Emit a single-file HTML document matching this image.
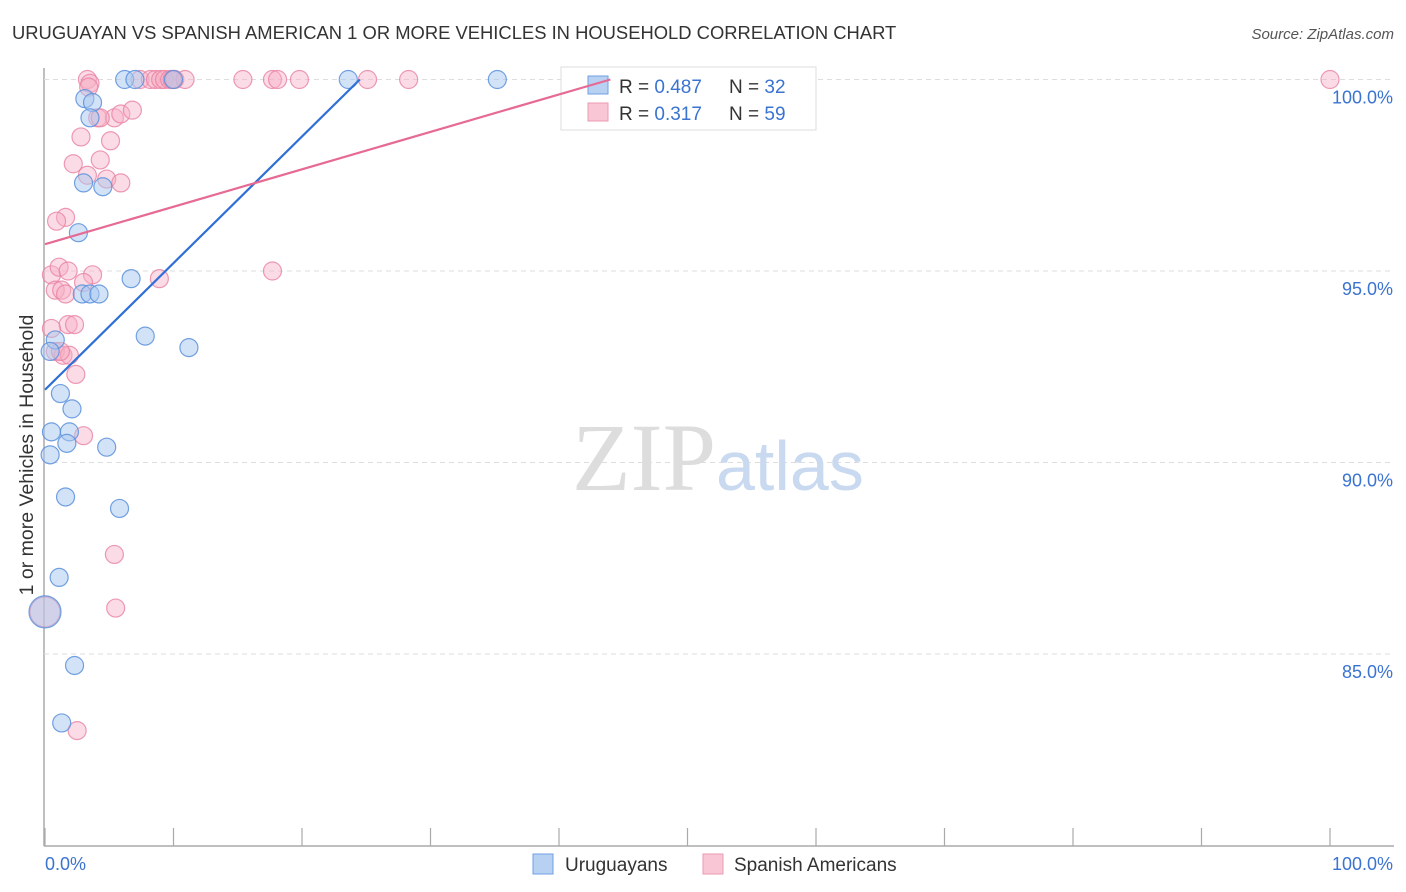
<!DOCTYPE html>
<html><head><meta charset="utf-8"><style>
body{margin:0;background:#fff;font-family:"Liberation Sans",sans-serif;}
svg{display:block}
</style></head><body>
<svg id="c" width="1406" height="892">
<text x="12" y="39" font-size="18.4" fill="#333">URUGUAYAN VS SPANISH AMERICAN 1 OR MORE VEHICLES IN HOUSEHOLD CORRELATION CHART</text>
<text x="1394" y="39" font-size="15" fill="#555" font-style="italic" text-anchor="end">Source: ZipAtlas.com</text>
<text x="33" y="455" font-size="19.5" fill="#333" text-anchor="middle" transform="rotate(-90 33 455)">1 or more Vehicles in Household</text>
<g id="grid"></g>
<text x="716" y="490" font-size="96" fill="#ddd" font-family="Liberation Serif,serif" text-anchor="end">ZIP</text>
<text x="716" y="490" font-size="70" fill="#c9d9f0">atlas</text>
<g id="pts"></g>
<g>
<rect x="561" y="67" width="255" height="63" fill="#fff" stroke="#ddd"/>
<rect x="588" y="76" width="20" height="18" fill="#b8d1f3" stroke="#6f9fe0"/>
<rect x="588" y="103" width="20" height="18" fill="#f9c6d5" stroke="#ec9ab3"/>
<text x="619" y="93" font-size="19" fill="#333">R = <tspan fill="#3a73d0">0.487</tspan></text>
<text x="729" y="93" font-size="19" fill="#333">N = <tspan fill="#3a73d0">32</tspan></text>
<text x="619" y="120" font-size="19" fill="#333">R = <tspan fill="#3a73d0"> 0.317</tspan></text>
<text x="729" y="120" font-size="19" fill="#333">N = <tspan fill="#3a73d0">59</tspan></text>
</g>
<g id="lines"></g>
<g>
<rect x="533" y="854" width="20" height="20" fill="#b8d1f3" stroke="#6f9fe0"/>
<text x="565" y="871" font-size="19" fill="#333">Uruguayans</text>
<rect x="703" y="854" width="20" height="20" fill="#f9c6d5" stroke="#ec9ab3"/>
<text x="734" y="871" font-size="19" fill="#333">Spanish Americans</text>
</g>
</svg>
<script>
const yTicks=[100,95,90,85];
const yTickLabels=["100.0%","95.0%","90.0%","85.0%"];
const xTickLabels=["0.0%","100.0%"];
const blueX=[6.2,7.0,10.0,23.6,35.2,3.1,3.7,3.5,3.0,4.5,2.6,6.7,2.9,3.5,4.2,7.8,11.2,0.8,0.4,1.2,2.1,0.5,1.9,1.7,4.8,0.4,1.6,5.8,1.1,0,2.3,1.3];
const blueY=[100,100,100,100,100,99.5,99.4,99.0,97.3,97.2,96.0,94.8,94.4,94.4,94.4,93.3,93.0,93.2,92.9,91.8,91.4,90.8,90.8,90.5,90.4,90.2,89.1,88.8,87.0,86.1,84.7,83.2];
const blueR=[9,9,9,9,9,9,9,9,9,9,9,9,9,9,9,9,9,9,9,9,9,9,9,9,9,9,9,9,9,16,9,9];
const pinkX=[3.3,3.5,3.4,7.4,8.2,8.6,9.0,9.3,9.7,10.1,10.9,15.4,17.7,18.1,19.8,25.1,28.3,100,4.1,5.4,5.9,6.8,2.8,5.1,2.2,4.3,3.3,4.8,5.9,1.6,0.9,0.5,1.1,1.8,3.7,8.9,17.7,0.8,1.3,1.6,3.0,1.8,2.3,0.5,0.8,1.4,1.9,2.4,3.0,5.4,5.5,2.5,0,9.9,4.3,1.2];
const pinkY=[100,99.9,99.8,100,100,100,100,100,100,100,100,100,100,100,100,100,100,100,99.0,99.0,99.1,99.2,98.5,98.4,97.8,97.9,97.5,97.4,97.3,96.4,96.3,94.9,95.1,95.0,94.9,94.8,95.0,94.5,94.5,94.4,94.7,93.6,93.6,93.5,92.9,92.8,92.8,92.3,90.7,87.6,86.2,83.0,86.1,100,99.0,92.9];
const pinkR=pinkX.map((_,i)=>i==52?15:9);
const blueLine=[[0,91.9],[24.5,100]];
const pinkLine=[[0,95.7],[44,100]];
const NS="http://www.w3.org/2000/svg";
const X0=45,X1=1330,Y100=79.5,PER=38.3;
const xs=v=>X0+(X1-X0)*v/100;
const ys=v=>Y100+(100-v)*PER;
function mk(tag,attrs,parent){const e=document.createElementNS(NS,tag);for(const k in attrs)e.setAttribute(k,attrs[k]);parent.appendChild(e);return e;}
const grid=document.getElementById('grid');
mk('line',{x1:44,y1:68,x2:44,y2:846,stroke:'#aaa','stroke-width':1.5},grid);
mk('line',{x1:44,y1:846,x2:1394,y2:846,stroke:'#aaa','stroke-width':1.5},grid);
yTicks.forEach((t,i)=>{
 const l=mk('line',{x1:44,y1:ys(t),x2:1394,y2:ys(t),stroke:'#ddd','stroke-dasharray':'5,4'},grid);
 
 
 const tx=mk('text',{x:1393,y:ys(t)+24,'font-size':18,fill:'#3a73d0','text-anchor':'end'},grid);
 tx.textContent=yTickLabels[i];
 
 
});
for(let i=0;i<=10;i++){const x=xs(i*10);mk('line',{x1:x,y1:828,x2:x,y2:846,stroke:'#aaa','stroke-width':1.2},grid);}
const xl0=mk('text',{x:45,y:870,'font-size':18,fill:'#3a73d0'},grid);xl0.textContent=xTickLabels[0];


const xl1=mk('text',{x:1393,y:870,'font-size':18,fill:'#3a73d0','text-anchor':'end'},grid);xl1.textContent=xTickLabels[1];


const pts=document.getElementById('pts');
pinkX.forEach((v,i)=>{const c=mk('circle',{cx:xs(v),cy:ys(pinkY[i]),r:pinkR[i],fill:'rgba(246,176,198,0.45)',stroke:'rgba(232,130,162,0.8)','stroke-width':1.2},pts);
 
 });
blueX.forEach((v,i)=>{const c=mk('circle',{cx:xs(v),cy:ys(blueY[i]),r:blueR[i],fill:'rgba(168,199,240,0.5)',stroke:'rgba(90,145,220,0.85)','stroke-width':1.2},pts);
 
 });
const lines=document.getElementById('lines');
const bl=mk('line',{x1:xs(blueLine[0][0]),y1:ys(blueLine[0][1]),x2:xs(blueLine[1][0]),y2:ys(blueLine[1][1]),stroke:'#2f6fd6','stroke-width':2.2},lines);


const pl=mk('line',{x1:xs(pinkLine[0][0]),y1:ys(pinkLine[0][1]),x2:xs(pinkLine[1][0]),y2:ys(pinkLine[1][1]),stroke:'#e66a93','stroke-width':2.2},lines);


</script>
</body></html>
